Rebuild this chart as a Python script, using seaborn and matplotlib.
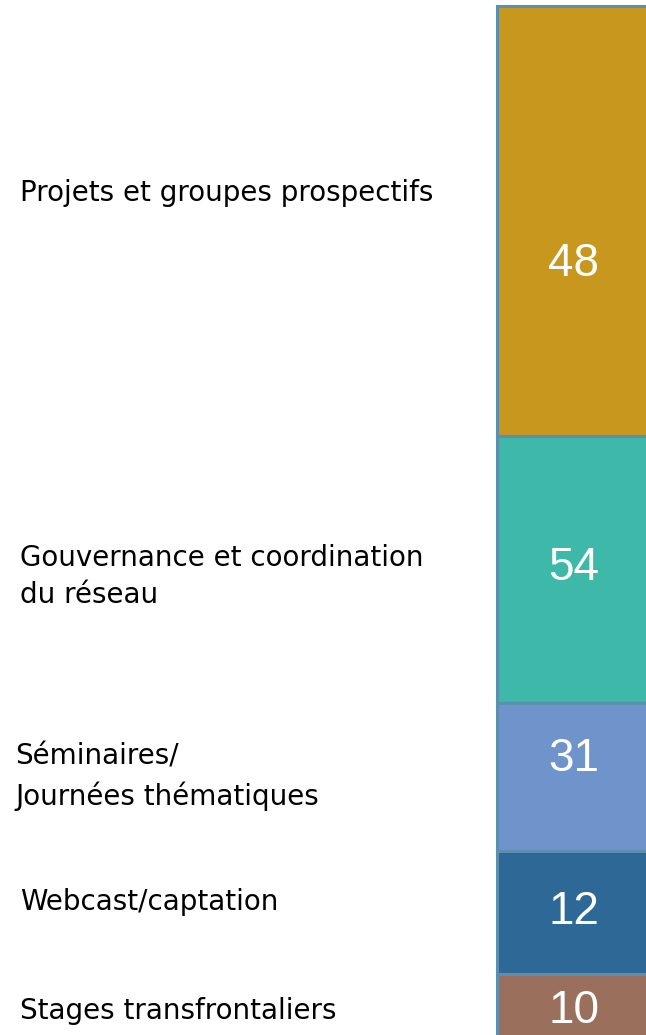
import numpy as np
import pandas as pd
import matplotlib
matplotlib.use("Agg")
import matplotlib.pyplot as plt
import seaborn as sns

# categories (top to bottom), counts shown in the bar and segment sizes
categories = ["Projets et groupes prospectifs",
              "Gouvernance et coordination\ndu réseau",
              "Séminaires/\nJournées thématiques",
              "Webcast/captation",
              "Stages transfrontaliers"]
counts = [48, 54, 31, 12, 10]
sizes = [43.0, 26.7, 14.8, 12.3, 8.0]
colors = ["#C8981E", "#3DB8A9", "#6F93CB", "#2D6896", "#9A705D"]
# vertical nudge of the labels inside / beside each segment
num_shift = [4.3, -0.2, -1.8, -0.1, -0.3]
lab_shift = [-2.8, 0.7, 0.0, -1.0, -0.3]
lab_x = [20, 20, 15, 20, 20]

sns.set_theme(style="white")
plt.rcParams['font.family'] = ['DejaVu Sans']

df = pd.DataFrame({"cat": categories, "n": counts, "size": sizes})
df["bottom"] = df["size"].cumsum() - df["size"]
df["grp"] = "all"

fig = plt.figure(figsize=(6.46, 10.35), dpi=100)
ax = fig.add_axes([0, 0, 1, 1])

for i, row in df.iterrows():
    sns.barplot(data=df.iloc[[i]], x="grp", y="size", bottom=row["bottom"],
                color=colors[i], saturation=1, width=1.0,
                edgecolor="#5B8FAE", linewidth=2.2, ax=ax)

# bar (category 0 spans -0.5..0.5); place its left edge at 497 px
scale = 203.0
xmin = -0.5 - 497 / scale
xmax = xmin + 646 / scale
ax.set_xlim(xmin, xmax)
ax.set_ylim(102.9, -0.6)
xmid = (-0.5 + xmax) / 2

for i, row in df.iterrows():
    yc = row["bottom"] + row["size"] / 2
    ax.text(xmid + 0.01, yc + num_shift[i], str(row["n"]), color="white",
            fontsize=33, ha="center", va="center", family="Liberation Sans")
    ax.text(xmin + lab_x[i] / scale, yc + lab_shift[i], row["cat"], color="black",
            fontsize=20, ha="left", va="center", linespacing=1.45)

ax.axis("off")
fig.savefig("out.png", dpi=100)
